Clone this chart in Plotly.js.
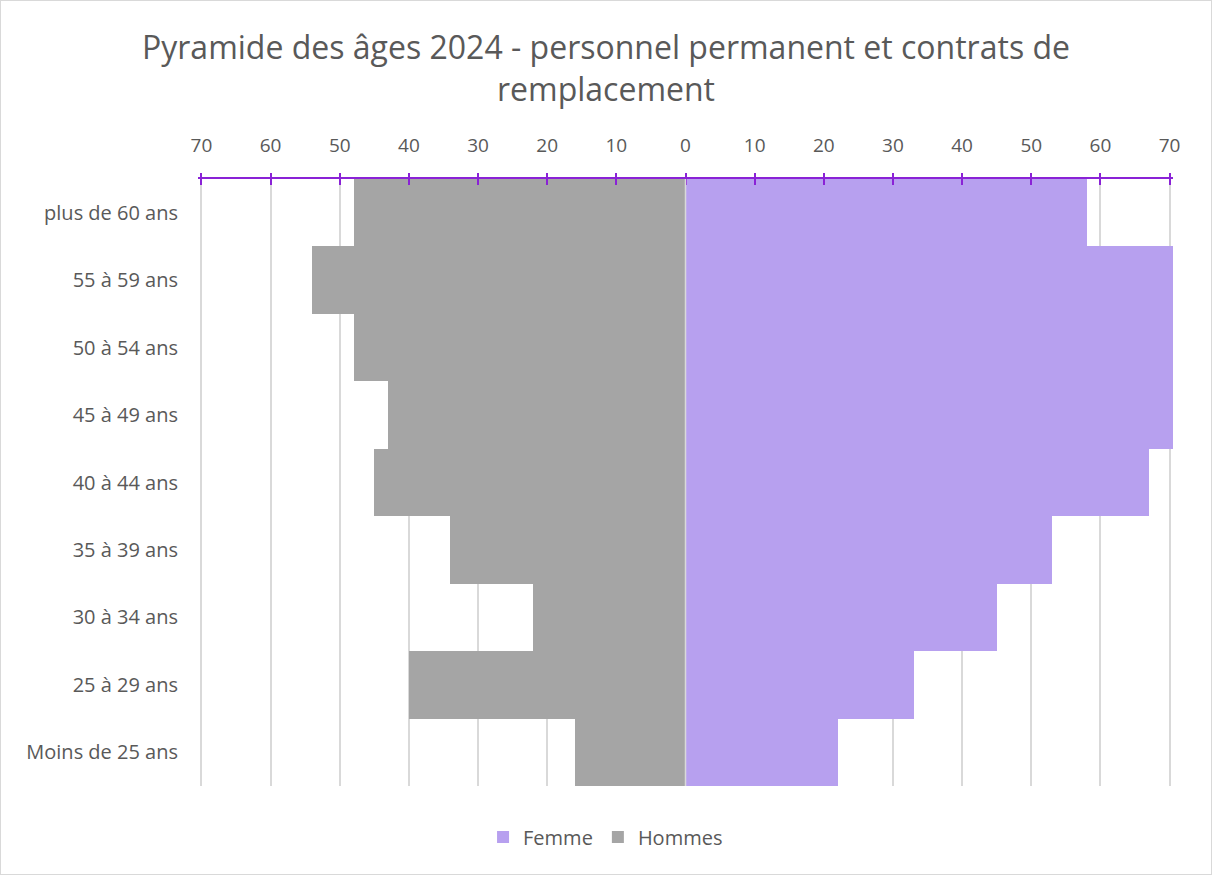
<!DOCTYPE html>
<html>
<head>
<meta charset="utf-8">
<script src="https://cdn.plot.ly/plotly-3.0.1.min.js"></script>
<style>
html,body{margin:0;padding:0;background:#fff;}
#wrap{width:1210px;height:873px;border:1px solid #d9d9d9;}
#chart{width:1210px;height:873px;}
</style>
</head>
<body>
<div id="wrap"><div id="chart"></div></div>
<script>
const categories = ["plus de 60 ans","55 à 59 ans","50 à 54 ans","45 à 49 ans","40 à 44 ans","35 à 39 ans","30 à 34 ans","25 à 29 ans","Moins de 25 ans"];
const femme = [58, 71, 71, 71, 67, 53, 45, 33, 22];
const hommes = [48, 54, 48, 43, 45, 34, 22, 40, 16];
const tickVals = [-70,-60,-50,-40,-30,-20,-10,0,10,20,30,40,50,60,70];
const tickText = tickVals.map(v => String(Math.abs(v)));

const FONT = '"Open Sans", "Noto Sans", sans-serif';
const GREY = '#595959';
const PURPLE_AXIS = '#8a22d6';

const traces = [
  {
    type: 'bar', orientation: 'h', name: 'Femme',
    y: categories, x: femme,
    marker: {color: '#b7a0ef', line: {width: 0}},
    hoverinfo: 'name+x+y'
  },
  {
    type: 'bar', orientation: 'h', name: 'Hommes',
    y: categories, x: hommes.map(v => -v),
    customdata: hommes,
    marker: {color: '#a5a5a5', line: {width: 0}},
    hovertemplate: '%{y}: %{customdata}<extra>Hommes</extra>'
  },
  {
    type: 'scatter', x: [null], y: [null], xaxis: 'x2', showlegend: false, hoverinfo: 'skip'
  }
];

const layout = {
  width: 1210, height: 873,
  paper_bgcolor: '#ffffff', plot_bgcolor: '#ffffff',
  font: {family: FONT, color: GREY, size: 18},
  margin: {l: 197, r: 38, t: 178, b: 88, autoexpand: false},
  barmode: 'relative', bargap: 0,
  title: {
    text: 'Pyramide des âges 2024 - personnel permanent et contrats de<br>remplacement',
    font: {family: FONT, size: 32, color: GREY},
    x: 0.5, xanchor: 'center', xref: 'container',
    y: 1 - 58/873, yanchor: 'middle', yref: 'container'
  },
  xaxis: {
    side: 'top', range: [-70.5, 70.5], fixedrange: true,
    tickvals: tickVals, ticktext: tickText, tickangle: 0,
    showgrid: true, gridcolor: '#d9d9d9', gridwidth: 1.5,
    zeroline: false, automargin: false,
    showline: true, linecolor: PURPLE_AXIS, linewidth: 2,
    ticks: 'outside', ticklen: 4, tickwidth: 2, tickcolor: PURPLE_AXIS,
    ticklabelstandoff: 13,
    tickfont: {size: 19, color: GREY}
  },
  xaxis2: {
    overlaying: 'x', side: 'top', range: [-70.5, 70.5], matches: 'x',
    tickvals: tickVals, showticklabels: false, showgrid: false, zeroline: false,
    ticks: 'inside', ticklen: 6, tickwidth: 2, tickcolor: PURPLE_AXIS, showline: false
  },
  yaxis: {
    type: 'category', autorange: 'reversed', fixedrange: true,
    showgrid: false, zeroline: false, showline: false, ticks: '', automargin: false,
    ticklabelstandoff: 19,
    tickfont: {size: 20, color: GREY}
  },
  shapes: [
    {type: 'line', xref: 'x', yref: 'paper', x0: 0, x1: 0, y0: 0, y1: 1,
     line: {color: '#d9d9d9', width: 1.5}, layer: 'above'}
  ],
  legend: {
    orientation: 'h', x: 0.418, xanchor: 'center', y: -0.084, yanchor: 'middle',
    font: {size: 20, color: GREY}, traceorder: 'normal', itemclick: false
  },
  showlegend: true
};

Plotly.newPlot('chart', traces, layout, {displayModeBar: false, staticPlot: false});
</script>
</body>
</html>
